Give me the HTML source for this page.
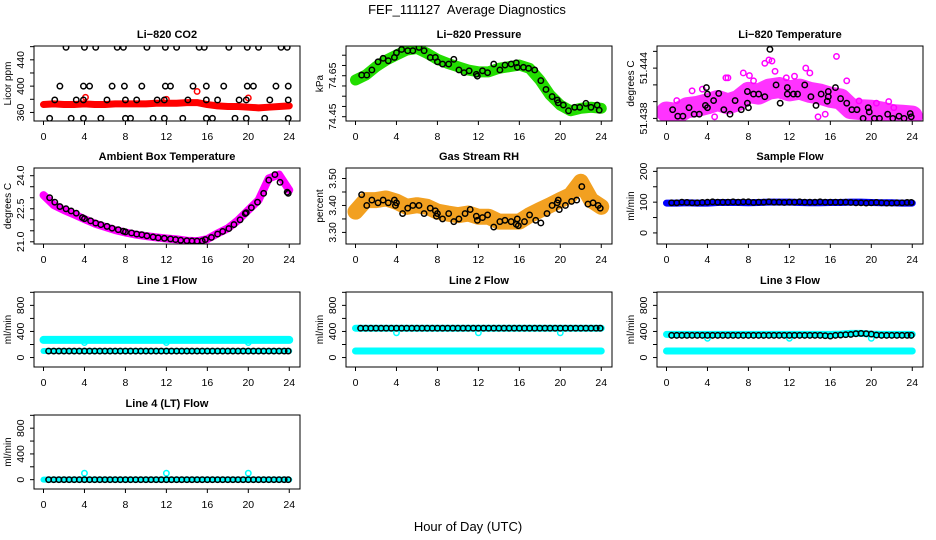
<!DOCTYPE html>
<html><head><meta charset="utf-8"><style>
html,body{margin:0;padding:0;background:#fff;}
svg{display:block;font-family:"Liberation Sans",sans-serif;}
</style></head><body>
<svg id="chart" width="936" height="540" viewBox="0 0 936 540" xmlns="http://www.w3.org/2000/svg">
<rect width="936" height="540" fill="#fff"/>
<text x="467" y="14" text-anchor="middle" font-size="13" style="white-space:pre">FEF_111127  Average Diagnostics</text>
<text x="468" y="531" text-anchor="middle" font-size="13">Hour of Day (UTC)</text>
</svg>
<script>
const xTicks=[0,4,8,12,16,20,24];
const bandHours=[0,1,2,3,4,5,6,7,8,9,10,11,12,13,14,15,16,17,18,19,20,21,22,23,24];
// CO2
const co2Red=[372,373,372,372,373,372,372,373,373,373,373,374,374,374,375,375,372,370,369,369,368,367,368,369,370];
const co2RedOutH=[4.1,12,15,20];
const co2RedOutV=[383,380,392,382];
const co2BlackH=[0.6,2.7,3.9,5.6,8,8.5,10.7,11.8,13.6,15.9,16.5,18.7,19.8,21.6,23.9,1.1,3.2,3.9,6.2,8,9.1,11.1,11.8,14.1,15.9,17,19.1,19.8,22.1,23.9,1.6,3.9,4.5,6.7,7.9,9.6,11.9,12.4,14.6,15.9,17.6,19.9,20.5,22.7,23.9,2.2,4,5.1,7.2,7.8,10.1,11.9,13,15.2,15.7,18.1,19.9,21,23.2,23.8];
const co2BlackV=[351,351,351,351,351,351,351,351,351,351,351,351,351,351,351,379,379,379,379,379,379,379,379,379,379,379,379,379,379,379,400,400,400,400,400,400,400,400,400,400,400,400,400,400,400,459,459,459,459,459,459,459,459,459,459,459,459,459,459,459];
// Pressure
const presGreen=[74.629,74.653,74.694,74.726,74.751,74.775,74.783,74.759,74.730,74.710,74.694,74.678,74.669,74.669,74.686,74.694,74.702,74.686,74.629,74.556,74.507,74.479,74.491,74.496,74.491];
const presBlackH=[0.6,1.1,1.6,2.2,2.7,3.2,3.8,4,4.5,5.1,5.6,6.2,6.7,7.3,7.8,8,8.5,9.1,9.6,10.1,10.6,11.1,11.8,11.9,12.4,12.9,13.5,14.1,14.6,15.2,15.7,15.8,16.4,16.9,17.5,18.1,18.6,19.2,19.7,19.8,20.3,20.8,21.4,21.9,22.5,23,23.6,23.8];
const presBlackV=[74.653,74.653,74.678,74.718,74.735,74.723,74.739,74.762,74.778,74.772,74.772,74.788,74.772,74.739,74.739,74.718,74.707,74.707,74.730,74.678,74.665,74.674,74.657,74.648,74.674,74.665,74.707,74.678,74.702,74.707,74.713,74.691,74.691,74.686,74.678,74.626,74.583,74.548,74.531,74.518,74.507,74.479,74.496,74.496,74.515,74.496,74.507,74.482];
// Li-820 temperature
const tempPink=[51.43877,51.43858,51.43928,51.43943,51.43974,51.44013,51.43974,51.44013,51.44110,51.44090,51.44149,51.44168,51.44129,51.44149,51.44110,51.44090,51.44052,51.44032,51.43916,51.43904,51.43897,51.43877,51.43846,51.43838,51.43827];
const tempPinkOutH=[4.7,5.8,7.5,8.1,9.6,10,10.3,11.7,13.6,14,16.6,17.6,18.8,20.5,21.7,1,3.5,2.5,22.2,6,14.8,15.5,12.5,10.6,8.5];
const tempPinkOutV=[51.43819,51.44284,51.44342,51.44311,51.44458,51.44497,51.44485,51.44284,51.44400,51.44342,51.44540,51.44249,51.44009,51.43982,51.44001,51.44013,51.44149,51.44129,51.43928,51.44284,51.43819,51.43850,51.44303,51.44362,51.44249];
const tempBlackH=[0.6,1.1,1.6,2.2,2.7,3.2,3.8,3.9,4,4.0,4.6,5.1,5.6,6.2,6.7,7.3,7.9,7.9,8,8.5,9,9.6,10.1,10.7,11.1,11.8,11.8,12.4,12.8,13.5,14.1,14.6,15.1,15.7,15.8,15.8,16.5,17,17.6,18.1,18.6,19.2,19.7,19.8,20.3,20.8,21.6,22.1,22.7,23.2,23.8,23.9];
const tempBlackV=[51.43904,51.43827,51.43827,51.43928,51.43850,51.43850,51.43955,51.44168,51.44090,51.43928,51.44013,51.44098,51.43904,51.43850,51.44013,51.43904,51.44121,51.43982,51.43928,51.44090,51.44090,51.44059,51.44624,51.44199,51.43982,51.44168,51.44090,51.44090,51.44090,51.44199,51.44059,51.43955,51.44090,51.44005,51.44121,51.44059,51.44168,51.44036,51.43982,51.43904,51.43904,51.43800,51.43928,51.43877,51.43800,51.43800,51.43850,51.43800,51.43827,51.43800,51.43858,51.43819];
// Ambient box temperature
const ambMag=[23.12,22.67,22.44,22.24,22.03,21.83,21.68,21.53,21.42,21.33,21.26,21.20,21.15,21.11,21.05,21.03,21.12,21.38,21.61,21.98,22.44,22.89,23.88,24.05,23.35];
const ambBlackH=[0.6,1.1,1.6,2.2,2.7,3.2,3.8,4,4.6,5.1,5.6,6.2,6.7,7.3,7.8,8,8.6,9.1,9.6,10.1,10.7,11.2,11.8,12.4,12.9,13.4,14,14.5,15,15.5,15.8,16.4,17,17.5,18.1,18.6,19.2,19.7,19.8,20.3,20.9,21.5,22,22.6,23.1,23.8,23.9];
const ambBlackV=[23.0,22.8,22.6,22.5,22.4,22.3,22.1,22.05,21.95,21.85,21.78,21.7,21.62,21.55,21.48,21.45,21.4,21.35,21.32,21.27,21.22,21.18,21.16,21.13,21.1,21.07,21.05,21.04,21.03,21.04,21.1,21.2,21.35,21.47,21.6,21.78,22.0,22.28,22.32,22.55,22.8,23.2,23.8,24.05,23.7,23.25,23.2];
// Gas stream RH
const rhOrange=[3.377,3.420,3.420,3.426,3.414,3.395,3.401,3.395,3.377,3.370,3.364,3.370,3.358,3.358,3.340,3.340,3.340,3.364,3.383,3.401,3.420,3.438,3.488,3.420,3.395];
const rhBlackH=[0.6,1.1,1.6,2.2,2.7,3.2,3.8,3.9,4,4.6,5.1,5.6,6.2,6.7,7.3,7.8,7.9,8,8.5,9.1,9.6,10.1,10.7,11.2,11.8,11.9,12.4,12.9,13.5,14.1,14.6,15.2,15.7,15.8,15.9,16.5,17,17.6,18.1,18.7,19.2,19.7,19.8,19.9,20.5,21.1,21.6,22.1,22.7,23.2,23.7,23.9];
const rhBlackV=[3.44,3.40,3.42,3.41,3.42,3.41,3.42,3.40,3.41,3.37,3.39,3.40,3.40,3.37,3.39,3.38,3.36,3.37,3.35,3.37,3.34,3.35,3.37,3.385,3.36,3.345,3.355,3.365,3.32,3.34,3.345,3.34,3.33,3.35,3.325,3.34,3.365,3.345,3.335,3.37,3.40,3.41,3.42,3.385,3.40,3.415,3.42,3.47,3.405,3.41,3.40,3.39];
// Flows
const flowHours=[0.5,1,1.5,2,2.5,3,3.5,4,4.5,5,5.5,6,6.5,7,7.5,8,8.5,9,9.5,10,10.5,11,11.5,12,12.5,13,13.5,14,14.5,15,15.5,16,16.5,17,17.5,18,18.5,19,19.5,20,20.5,21,21.5,22,22.5,23,23.5,23.9];
const sampleBlue=[97,97,98,97,97,99,99,99,98,99,100,100,100,99,98,98,99,99,100,100,99,98,98,97,97];
const sampleBlack=[98,98,100,99,98,98,99,100,101,100,100,100,101,100,101,101,99,100,100,101,100,100,99,100,100,101,100,100,100,101,100,100,100,100,100,99,98,98,97,98,99,98,97,97,98,98,99,99];
const line1CyanHi=[270,270,270,270,270,270,270,270,270,270,270,270,270,270,270,270,270,270,270,270,270,270,270,270,270];
const line1CyanLo=[100,100,100,100,100,100,100,100,100,100,100,100,100,100,100,100,100,100,100,100,100,100,100,100,100];
const line1Black=[100,100,100,100,100,100,100,100,100,100,100,100,100,100,100,100,100,100,100,100,100,100,100,100,100,100,100,100,100,100,100,100,100,100,100,100,100,100,100,100,100,100,100,100,100,100,100,100];
const line2CyanHi=[450,450,450,450,450,450,450,450,450,450,450,450,450,450,450,450,450,450,450,450,450,450,450,450,450];
const line2CyanLo=[100,100,100,100,100,100,100,100,100,100,100,100,100,100,100,100,100,100,100,100,100,100,100,100,100];
const line2Black=[450,450,450,450,450,450,450,450,450,450,450,450,450,450,450,450,450,450,450,450,450,450,450,450,450,450,450,450,450,450,450,450,450,450,450,450,450,450,450,450,450,450,450,450,450,450,450,450];
const line3CyanHi=[355,355,355,355,355,355,355,355,355,355,355,355,355,355,355,355,355,360,370,370,360,355,355,355,355];
const line3CyanLo=[100,100,100,100,100,100,100,100,100,100,100,100,100,100,100,100,100,100,100,100,100,100,100,100,100];
const line3Black=[340,340,340,340,340,340,340,340,340,340,340,340,340,340,340,340,340,340,340,340,340,340,340,340,340,340,340,340,340,340,335,330,340,345,350,355,365,370,365,360,345,340,340,340,340,340,340,340];
const line4Cyan=[0,0,0,0,0,0,0,0,0,0,0,0,0,0,0,0,0,0,0,0,0,0,0,0,0];
const line4Black=[0,0,0,0,0,0,0,0,0,0,0,0,0,0,0,0,0,0,0,0,0,0,0,0,0,0,0,0,0,0,0,0,0,0,0,0,0,0,0,0,0,0,0,0,0,0,0,0];
const dipHours=[4,12,20];
const line1Dip=[230,230,230];
const line2Dip=[380,380,380];
const line3Dip=[295,295,295];
const line4Spike=[100,100,100];

const NS='http://www.w3.org/2000/svg';
const svg=document.getElementById('chart');
const colLeft=[34,346,657], rowTop=[46,168,292,415], rowH=[75,76,75,74], W=266;
function el(tag,attrs,parent){const e=document.createElementNS(NS,tag);for(const k in attrs)e.setAttribute(k,attrs[k]);(parent||svg).appendChild(e);return e;}
function panel(name,col,row,title,ytitle,ydom,yticks,ylabels){
  const L=colLeft[col],T=rowTop[row],H=rowH[row],B=T+H;
  const g=el('g',{});
  
  
  const x=h=>L+9.5+h*10.24;
  const y=v=>B-(v-ydom[0])/(ydom[1]-ydom[0])*H;
  const t=el('text',{x:L+W/2,y:T-8,'text-anchor':'middle','font-size':11,'font-weight':'bold'},g);t.textContent=title;
  
  
  const yt=el('text',{transform:`translate(${L-23},${T+H/2}) rotate(-90)`,'text-anchor':'middle','font-size':10},g);yt.textContent=ytitle;
  
  
  xTicks.forEach(h=>{
    el('line',{x1:x(h),x2:x(h),y1:B,y2:B+4,stroke:'#000','stroke-width':1},g);
    const tx=el('text',{x:x(h),y:B+19,'text-anchor':'middle','font-size':10.5},g);tx.textContent=h;
    
    
  });
  yticks.forEach(v=>{el('line',{x1:L-4,x2:L,y1:y(v),y2:y(v),stroke:'#000','stroke-width':1},g);});
  ylabels.forEach(v=>{
    const ty=el('text',{transform:`translate(${L-10},${y(+v)}) rotate(-90)`,'text-anchor':'middle','font-size':10.5},g);ty.textContent=v;
    
    
  });
  const clip='clip'+name;
  const cp=el('clipPath',{id:clip},g);el('rect',{x:L,y:T,width:W,height:H},cp);
  const plot=el('g',{'clip-path':`url(#${clip})`},g);
  el('rect',{x:L,y:T,width:W,height:H,fill:'none',stroke:'#000','stroke-width':1},g);
  return {x,y,plot};
}
function band(p,hs,vs,color,w,name){
  const pl=el('polyline',{points:hs.map((h,i)=>p.x(h)+','+p.y(vs[i])).join(' '),fill:'none',stroke:color,'stroke-width':w,'stroke-linecap':'round','stroke-linejoin':'round'},p.plot);
  
  
}
function pts(p,hs,vs,color,name,r){
  hs.forEach((h,i)=>{
    const c=el('circle',{cx:p.x(h),cy:p.y(vs[i]),r:r||2.7,fill:'none',stroke:color,'stroke-width':1.5},p.plot);
    
    
  });
}
// Panels
let p=panel('co2',0,0,'Li\u2212820 CO2','Licor ppm',[347,461],[360,380,400,420,440,460],['360','400','440']);
band(p,bandHours,co2Red,'#ff0000',7,'co2-red-band');pts(p,co2RedOutH,co2RedOutV,'#ff0000','co2-red-point');pts(p,co2BlackH,co2BlackV,'#000','co2-black-point');

p=panel('pressure',1,0,'Li\u2212820 Pressure','kPa',[74.429,74.795],[74.45,74.5,74.55,74.6,74.65,74.7,74.75],['74.45','74.65']);
band(p,bandHours,presGreen,'#22dd00',11,'pressure-green-band');pts(p,presBlackH,presBlackV,'#000','pressure-black-point');

p=panel('li820-temp',2,0,'Li\u2212820 Temperature','degrees C',[51.43769,51.44664],[51.438,51.440,51.442,51.444,51.446],['51.438','51.444']);
band(p,bandHours,tempPink,'#ff33ff',21,'temp-pink-band');pts(p,tempPinkOutH,tempPinkOutV,'#ff00ff','temp-pink-point');pts(p,tempBlackH,tempBlackV,'#000','temp-black-point');

p=panel('ambient',0,1,'Ambient Box Temperature','degrees C',[20.90,24.35],[21,21.5,22,22.5,23,23.5,24],['21.0','22.5','24.0']);
band(p,bandHours,ambMag,'#ff00ff',8,'ambient-magenta-band');pts(p,ambBlackH,ambBlackV,'#000','ambient-black-point');

p=panel('rh',1,1,'Gas Stream RH','percent',[3.257,3.539],[3.30,3.35,3.40,3.45,3.50],['3.30','3.40','3.50']);
band(p,bandHours,rhOrange,'#f2a020',16,'rh-orange-band');pts(p,rhBlackH,rhBlackV,'#000','rh-black-point');

p=panel('sample-flow',2,1,'Sample Flow','ml/min',[-36,211],[0,50,100,150,200],['0','100','200']);
band(p,bandHours,sampleBlue,'#0000ff',7,'sample-blue-band');pts(p,flowHours,sampleBlack,'#000','sample-black-point');

const fd=[-145,1005],ft=[0,200,400,600,800,1000],fl=['0','400','800'];
p=panel('line1',0,2,'Line 1 Flow','ml/min',fd,ft,fl);
band(p,bandHours,line1CyanHi,'#00ffff',8,'line1-cyan-band');band(p,bandHours,line1CyanLo,'#00ffff',6,'line1-cyan-low');pts(p,dipHours,line1Dip,'#00ffff','line1-cyan-point');pts(p,flowHours,line1Black,'#000','line1-black-point');

p=panel('line2',1,2,'Line 2 Flow','ml/min',fd,ft,fl);
band(p,bandHours,line2CyanHi,'#00ffff',7,'line2-cyan-band');band(p,bandHours,line2CyanLo,'#00ffff',7,'line2-cyan-low');pts(p,dipHours,line2Dip,'#00ffff','line2-cyan-point');pts(p,flowHours,line2Black,'#000','line2-black-point');

p=panel('line3',2,2,'Line 3 Flow','ml/min',fd,ft,fl);
band(p,bandHours,line3CyanHi,'#00ffff',7,'line3-cyan-band');band(p,bandHours,line3CyanLo,'#00ffff',7,'line3-cyan-low');pts(p,dipHours,line3Dip,'#00ffff','line3-cyan-point');pts(p,flowHours,line3Black,'#000','line3-black-point');

p=panel('line4',0,3,'Line 4 (LT) Flow','ml/min',fd,ft,fl);
band(p,bandHours,line4Cyan,'#00ffff',6,'line4-cyan-band');pts(p,dipHours,line4Spike,'#00ffff','line4-cyan-point');pts(p,flowHours,line4Black,'#000','line4-black-point');
</script>
</body></html>
